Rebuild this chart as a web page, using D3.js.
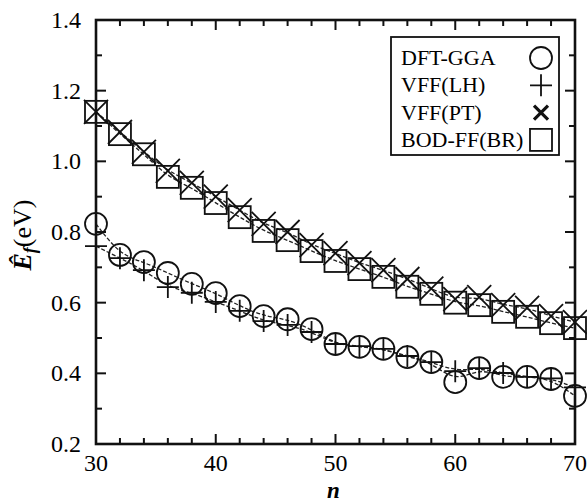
<!DOCTYPE html>
<html>
<head>
<meta charset="utf-8">
<script src="https://cdn.jsdelivr.net/npm/d3@7"></script>
<style>
  body { margin: 0; background: #fff; }
</style>
</head>
<body>
<svg width="587" height="504"></svg>
<script>
// data
var nVals = [30,32,34,36,38,40,42,44,46,48,50,52,54,56,58,60,62,64,66,68,70];
var dftGGA = [0.823,0.735,0.715,0.684,0.653,0.627,0.590,0.562,0.553,0.525,0.483,0.475,0.469,0.446,0.432,0.375,0.415,0.390,0.390,0.384,0.336];
var vffLH  = [0.760,0.726,0.692,0.644,0.628,0.602,0.577,0.548,0.537,0.517,0.483,0.477,0.469,0.449,0.432,0.406,0.415,0.401,0.390,0.386,0.360];
var vffPT  = [1.140,1.083,1.027,0.973,0.939,0.900,0.862,0.823,0.800,0.763,0.740,0.712,0.692,0.667,0.640,0.610,0.616,0.593,0.585,0.562,0.545];
var bodFF  = [1.140,1.077,1.020,0.956,0.925,0.882,0.842,0.803,0.777,0.746,0.718,0.695,0.673,0.645,0.625,0.600,0.593,0.574,0.560,0.542,0.528];
var seriesNames = ["DFT-GGA", "VFF(LH)", "VFF(PT)", "BOD-FF(BR)"];
var yTicks = [0.2,0.4,0.6,0.8,1.0,1.2,1.4];
var xTicks = [30,40,50,60,70];

var FONT = "Liberation Serif";

var svg = d3.select("svg"),
    margin = {left: 96, right: 12, top: 20, bottom: 60},
    width = 587 - margin.left - margin.right,
    height = 504 - margin.top - margin.bottom;

var g = svg.append("g").attr("transform", "translate(" + margin.left + "," + margin.top + ")");

var x = d3.scaleLinear().domain([30, 70]).range([0, width]);
var y = d3.scaleLinear().domain([0.2, 1.4]).range([height, 0]);

// ticks (inward, on all four sides)
var minorX = d3.range(30, 70.1, 2), minorY = d3.range(0.2, 1.401, 0.1);

minorX.forEach(function(v) {
    var L = v % 10 === 0 ? 10 : 6;
    g.append("line").attr("x1", x(v)).attr("x2", x(v)).attr("y1", height).attr("y2", height - L)
        .attr("stroke", "#111").attr("stroke-width", 2);
    g.append("line").attr("x1", x(v)).attr("x2", x(v)).attr("y1", 0).attr("y2", L)
        .attr("stroke", "#111").attr("stroke-width", 2);
});
minorY.forEach(function(v, i) {
    var L = i % 2 === 0 ? 10 : 6;
    g.append("line").attr("y1", y(v)).attr("y2", y(v)).attr("x1", 0).attr("x2", L)
        .attr("stroke", "#111").attr("stroke-width", 2);
    g.append("line").attr("y1", y(v)).attr("y2", y(v)).attr("x1", width).attr("x2", width - L)
        .attr("stroke", "#111").attr("stroke-width", 2);
});

g.selectAll(".xl").data(xTicks).enter().append("text")
    .attr("x", function(d) { return x(d); })
    .attr("y", height + 27)
    .attr("text-anchor", "middle")
    .attr("font-family", FONT)
    .attr("font-size", 24)
    .text(function(d) { return d; });

g.selectAll(".yl").data(yTicks).enter().append("text")
    .attr("x", -15)
    .attr("y", function(d) { return y(d) + 8; })
    .attr("text-anchor", "end")
    .attr("font-family", FONT)
    .attr("font-size", 24)
    .text(function(d) { return d.toFixed(1); });

// axis titles
svg.append("text")
    .attr("x", margin.left + width / 2 - 2)
    .attr("y", 498)
    .attr("text-anchor", "middle")
    .attr("font-family", FONT)
    .attr("font-size", 23).attr("font-weight", "bold").attr("font-style", "italic")
    .text("n");

var yt = svg.append("text")
    .attr("transform", "translate(31,235) rotate(-90)")
    .attr("text-anchor", "middle")
    .attr("font-family", FONT)
    .attr("font-size", 26);
yt.append("tspan").attr("font-weight", "bold").attr("font-style", "italic").text("Ê");
yt.append("tspan").attr("dy", 5).attr("font-weight", "bold").attr("font-style", "italic").attr("font-size", 18).text("f");
yt.append("tspan").attr("dy", -5).text("(eV)");

// dashed guide lines through each series
var allSeries = [dftGGA, vffLH, vffPT, bodFF];
var line = d3.line()
    .x(function(d, i) { return x(nVals[i]); })
    .y(function(d) { return y(d); })
    .curve(d3.curveBasis);

allSeries.forEach(function(s) {
    g.append("path").datum(s)
        .attr("d", line)
        .attr("fill", "none")
        .attr("stroke", "#222")
        .attr("stroke-width", 1.3)
        .attr("stroke-dasharray", "4,2");
});

// markers
var r = 11;
function drawCircle(sel, cx, cy) {
    sel.append("circle").attr("cx", cx).attr("cy", cy).attr("r", r)
        .attr("fill", "none").attr("stroke", "#111").attr("stroke-width", 1.8);
}
function drawPlus(sel, cx, cy) {
    sel.append("path").attr("d", "M" + (cx - r) + "," + cy + "H" + (cx + r) + "M" + cx + "," + (cy - r) + "V" + (cy + r))
        .attr("stroke", "#111").attr("stroke-width", 1.8).attr("fill", "none");
}
function drawX(sel, cx, cy, s, w) {
    sel.append("path").attr("d", "M" + (cx - s) + "," + (cy - s) + "L" + (cx + s) + "," + (cy + s) +
            "M" + (cx - s) + "," + (cy + s) + "L" + (cx + s) + "," + (cy - s))
        .attr("stroke", "#111").attr("stroke-width", w).attr("fill", "none");
}
function drawSquare(sel, cx, cy) {
    sel.append("rect").attr("x", cx - r).attr("y", cy - r).attr("width", 2 * r).attr("height", 2 * r)
        .attr("fill", "none").attr("stroke", "#111").attr("stroke-width", 1.8);
}

var marks = g.append("g");
nVals.forEach(function(n, i) {
    drawCircle(marks, x(n), y(dftGGA[i]));
    drawPlus(marks, x(n), y(vffLH[i]));
    drawX(marks, x(n), y(vffPT[i]), 12, 1.8);
    drawSquare(marks, x(n), y(bodFF[i]));
});

// frame
g.append("rect").attr("width", width).attr("height", height)
    .attr("fill", "none").attr("stroke", "#111").attr("stroke-width", 2.6);

// legend
var lg = svg.append("g").attr("transform", "translate(391,37)");
lg.append("rect").attr("width", 168).attr("height", 118)
    .attr("fill", "#fff").attr("stroke", "#111").attr("stroke-width", 1.8);
seriesNames.forEach(function(name, i) {
    var ty = 28 + i * 27.3;
    lg.append("text").attr("x", 10).attr("y", ty)
        .attr("font-family", FONT)
        .attr("font-size", 22).text(name);
    var cy = ty - 7, cx = 150;
    if (i === 0) drawCircle(lg, cx, cy);
    if (i === 1) drawPlus(lg, cx, cy);
    if (i === 2) drawX(lg, cx, cy, 7, 3.2);
    if (i === 3) drawSquare(lg, cx, cy);
});
</script>
</body>
</html>
